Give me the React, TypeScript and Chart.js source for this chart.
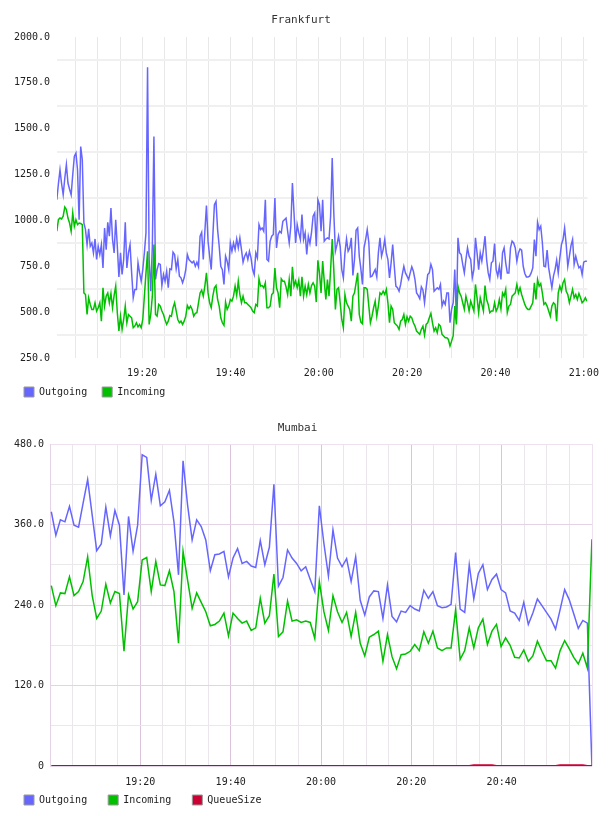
import React, { useEffect, useRef } from 'react';
import { Chart, registerables } from 'chart.js';

Chart.register(...registerables);

const FONT = "'DejaVu Sans Mono', 'Liberation Mono', monospace";
Chart.defaults.font.family = FONT;

// ---------- Frankfurt (time in minutes after 19:00) ----------
const FRA_TITLE = 'Frankfurt';
const FRA_TIME_START = 0.68;
const FRA_TIME_END = 120.69;
const FRA_X_RANGE = [0.72, 120.8];
const FRA_Y_RANGE = [250, 2000];
const FRA_Y_STEP = 125;
const FRA_OUTGOING = [
  1113, 1200, 1276, 1200, 1140, 1230, 1304, 1204, 1170, 1140,
  1250, 1349, 1367, 1276, 1004, 1403, 1331, 986, 950, 868,
  954, 859, 877, 823, 899, 787, 859, 814, 868, 741,
  959, 841, 990, 914, 1068, 896, 823, 1004, 859, 692,
  823, 705, 787, 990, 741, 823, 868, 714, 578, 624,
  624, 769, 714, 669, 732, 823, 932, 1835, 787, 614,
  859, 1458, 678, 732, 765, 760, 645, 705, 669, 723,
  633, 736, 732, 827, 814, 736, 787, 696, 687, 660,
  687, 732, 814, 787, 778, 769, 778, 750, 772, 747,
  914, 935, 787, 941, 1081, 887, 805, 732, 914, 1086,
  1104, 950, 859, 750, 732, 651, 805, 778, 732, 877,
  832, 877, 841, 899, 850, 905, 841, 772, 805, 823,
  787, 832, 796, 732, 705, 823, 796, 977, 950, 959,
  941, 1113, 787, 778, 887, 914, 923, 1122, 850, 923,
  941, 932, 995, 1004, 1013, 941, 877, 968, 1204, 1041,
  877, 977, 932, 896, 1032, 896, 932, 814, 914, 874,
  935, 1023, 1041, 859, 1113, 1086, 941, 1113,
  887, 899, 905, 899, 1023, 1340, 1041, 832, 868, 914,
  859, 732, 687, 823, 899, 832, 850, 905, 700, 787,
  946, 959, 805, 736, 651, 850, 896, 950, 881, 692,
  696, 714, 732, 692, 823, 905, 805, 841, 896, 823,
  787, 687, 769, 868, 750, 642, 633, 614, 651, 705,
  750, 714, 696, 678, 714, 747, 723, 678, 605, 591,
  573, 638, 620, 551, 633, 705, 714, 760, 732, 614,
  624, 633, 624, 651, 533, 560, 542, 605, 605, 442,
  515, 551, 732, 460, 905, 823, 814, 760, 714, 787,
  850, 805, 787, 687, 732, 905, 823, 732, 823, 778,
  841, 914, 787, 714, 678, 769, 778, 874, 732, 696,
  750, 678, 823, 850, 769, 714, 714, 850, 887, 877,
  850, 778, 823, 845, 838, 750, 711, 692, 692, 696,
  714, 741, 896, 805, 990, 950, 968, 881, 750, 747,
  838, 741, 687, 633, 696, 732, 783, 714, 796, 868,
  896, 959, 868, 750, 805, 863, 896, 760, 805, 769,
  741, 750, 705, 772, 778, 778,
];
const FRA_INCOMING = [
  941, 1004, 1013, 1008, 1023, 1073, 1059, 1013, 986, 941,
  1041, 968, 1004, 977, 986, 983, 977, 605, 596, 487,
  578, 542, 515, 515, 551, 506, 524, 551, 451, 633,
  533, 587, 605, 551, 602, 524, 591, 642, 497, 397,
  478, 406, 460, 533, 442, 487, 478, 469, 415, 424,
  442, 420, 433, 415, 460, 587, 714, 832, 433, 487,
  587, 868, 487, 478, 542, 533, 506, 487, 457, 433,
  451, 482, 478, 524, 551, 506, 460, 442, 451, 433,
  451, 478, 536, 518, 533, 515, 478, 493, 497, 551,
  605, 620, 587, 642, 714, 605, 551, 524, 587, 633,
  645, 569, 533, 469, 442, 428, 555, 515, 533, 569,
  560, 587, 642, 591, 669, 596, 551, 587, 551, 551,
  542, 533, 524, 506, 497, 542, 533, 682, 642, 645,
  633, 660, 524, 524, 533, 596, 605, 741, 633, 605,
  524, 682, 669, 669, 638, 596, 678, 587, 747, 642,
  669, 633, 673, 587, 692, 587, 642, 596, 651, 605,
  645, 660, 642, 555, 783, 714, 605, 778,
  669, 569, 678, 587, 732, 899, 732, 515, 624, 633,
  551, 460, 415, 596, 551, 533, 515, 451, 587, 605,
  660, 714, 487, 446, 437, 633, 633, 624, 533, 442,
  478, 524, 560, 478, 533, 605, 596, 614, 596, 624,
  551, 442, 533, 515, 442, 433, 424, 406, 451, 460,
  487, 433, 475, 451, 478, 469, 442, 424, 397, 388,
  379, 406, 424, 375, 433, 442, 469, 493, 442, 397,
  415, 388, 433, 424, 379, 370, 360, 360, 351, 315,
  342, 370, 533, 433, 642, 605, 587, 551, 515, 587,
  551, 506, 560, 533, 506, 651, 578, 497, 578, 542,
  506, 645, 569, 542, 497, 506, 506, 551, 506, 524,
  569, 518, 605, 587, 624, 497, 533, 542, 587, 596,
  605, 651, 605, 633, 596, 569, 542, 524, 515, 515,
  533, 551, 660, 569, 678, 642, 656, 605, 542, 551,
  533, 506, 478, 533, 551, 542, 451, 605, 642, 614,
  660, 678, 614, 596, 551, 587, 624, 578, 596, 569,
  602, 578, 551, 560, 578, 560,
];

// ---------- Mumbai (one sample per minute) ----------
const MUM_TITLE = 'Mumbai';
const MUM_TIME_START = 0.29;
const MUM_TIME_END = 119.98;
const MUM_X_RANGE = [0, 120];
const MUM_Y_RANGE = [0, 480];
const MUM_Y_STEP = 60;
const MUM_OUTGOING = [
  379, 344, 367, 364, 387, 359, 356, 392, 427, 374,
  321, 331, 386, 343, 381, 359, 255, 372, 320, 359,
  464, 460, 396, 435, 388, 394, 411, 364, 285, 455,
  389, 337, 367, 357, 337, 291, 315, 316, 320, 282,
  310, 324, 302, 305, 298, 296, 336, 300, 326, 420,
  268, 281, 322, 310, 302, 291, 297, 278, 260, 388,
  332, 283, 352, 310, 297, 309, 275, 312, 247, 225,
  252, 261, 260, 220, 270, 223, 215, 231, 229, 239,
  234, 231, 262, 250, 260, 239, 236, 237, 241, 318,
  234, 229, 300, 249, 287, 300, 263, 278, 286, 263,
  258, 231, 228, 217, 244, 211, 228, 249, 239, 229,
  219, 204, 233, 263, 248, 227, 205, 217, 213, 0,
];
const MUM_INCOMING = [
  269, 239, 258, 257, 282, 254, 260, 275, 312, 254,
  220, 231, 271, 243, 260, 257, 171, 255, 234, 245,
  307, 311, 260, 305, 270, 269, 291, 260, 183, 320,
  277, 235, 258, 244, 230, 209, 211, 216, 228, 194,
  228, 220, 213, 216, 202, 206, 250, 213, 224, 286,
  193, 200, 246, 216, 218, 214, 216, 214, 190, 275,
  230, 202, 254, 230, 214, 229, 193, 229, 183, 164,
  192, 196, 201, 156, 196, 163, 145, 166, 167, 171,
  181, 172, 200, 183, 201, 176, 172, 176, 176, 233,
  159, 172, 206, 176, 206, 219, 181, 201, 211, 178,
  191, 180, 162, 161, 173, 156, 164, 186, 171, 157,
  157, 146, 172, 187, 175, 162, 152, 168, 146, 338,
];
const MUM_QUEUE = [
  0, 0, 0, 0, 0, 0, 0, 0, 0, 0,
  0, 0, 0, 0, 0, 0, 0, 0, 0, 0,
  0, 0, 0, 0, 0, 0, 0, 0, 0, 0,
  0, 0, 0, 0, 0, 0, 0, 0, 0, 0,
  0, 0, 0, 0, 0, 0, 0, 0, 0, 0,
  0, 0, 0, 0, 0, 0, 0, 0, 0, 0,
  0, 0, 0, 0, 0, 0, 0, 0, 0, 0,
  0, 0, 0, 0, 0, 0, 0, 0, 0, 0,
  0, 0, 0, 0, 0, 0, 0, 0, 0, 0,
  0, 0, 0, 1, 1, 1, 1, 1, 0, 0,
  0, 0, 0, 0, 0, 0, 0, 0, 0, 0,
  0, 0, 1, 1, 1, 1, 1, 1, 0, 0,
];

const SERIES_NAMES = ['Outgoing', 'Incoming', 'QueueSize'];
const SERIES_COLORS = ['#6666ff', '#00c000', '#cc0033'];

const X_GRID_MINUTES = 5;
const X_LABEL_MINUTES = 20;

function toPoints(values: number[], t0: number, t1: number) {
  const step = (t1 - t0) / (values.length - 1);
  return values.map((v, i) => ({ x: t0 + i * step, y: v }));
}

function fmtTime(m: number) {
  const total = Math.round(m);
  const h = 19 + Math.floor(total / 60);
  const mm = total % 60;
  return `${h}:${mm < 10 ? '0' + mm : mm}`;
}

function fmtValue(v: number) {
  return v === 0 ? '0' : v.toFixed(1);
}

function range(a: number, b: number, s: number) {
  const out: number[] = [];
  for (let v = a; v <= b + 1e-9; v += s) out.push(v);
  return out;
}

function legendLabels(chart: any) {
  return chart.data.datasets.map((ds: any, i: number) => ({
    text: ds.label,
    fillStyle: ds.borderColor,
    strokeStyle: '#999999',
    lineWidth: 1,
    hidden: false,
    datasetIndex: i,
    fontColor: '#222222',
  }));
}

// moves the legend vertically after layout (keeps the horizontal item spacing)
const legendShift = {
  id: 'legendShift',
  afterLayout(chart: any, _args: any, opts: any) {
    const lg = chart.legend;
    if (lg && opts && opts.dy) {
      lg.top += opts.dy;
      lg.bottom += opts.dy;
    }
  },
};

function makeConfig(p: any) {
  const tickFont = { family: FONT, size: 10 };
  return {
    type: 'line',
    plugins: [legendShift],
    data: {
      datasets: p.series.map((s: any, i: number) => ({
        label: SERIES_NAMES[i],
        data: toPoints(s, p.t0, p.t1),
        borderColor: SERIES_COLORS[i],
        backgroundColor: SERIES_COLORS[i],
        borderWidth: i === 2 ? 2 : 1.5,
        pointRadius: 0,
        tension: 0,
        fill: false,
        order: p.series.length - i,
      })),
    },
    options: {
      responsive: false,
      animation: false,
      events: [],
      layout: { padding: { left: p.padLeft, right: p.padRight, top: 0, bottom: 0 } },
      plugins: {
        legendShift: { dy: p.legendDy },
        title: {
          display: true,
          text: p.title,
          color: '#333333',
          font: { family: FONT, size: 11, weight: 'normal' },
          padding: { top: p.titleTop, bottom: p.titleBottom },
        },
        legend: {
          position: 'bottom',
          align: 'start',
          labels: {
            boxWidth: 10,
            boxHeight: 10,
            padding: p.legendPad,
            color: '#222222',
            font: { family: FONT, size: 10 },
            generateLabels: legendLabels,
          },
        },
        tooltip: { enabled: false },
      },
      scales: {
        x: {
          type: 'linear',
          min: p.xRange[0],
          max: p.xRange[1],
          afterBuildTicks: (scale: any) => {
            scale.ticks = p.xTicks.map((v: number) => ({ value: v }));
          },
          afterFit: (scale: any) => {
            scale.height = 22;
          },
          grid: {
            drawTicks: false,
            color: p.xGridColor,
            lineWidth: 1,
          },
          border: { display: false },
          ticks: {
            autoSkip: false,
            maxRotation: 0,
            padding: p.xTickPad,
            color: '#222222',
            font: tickFont,
            callback: (v: number) => p.xLabel(v),
          },
        },
        y: {
          type: 'linear',
          min: p.yRange[0],
          max: p.yRange[1],
          afterBuildTicks: (scale: any) => {
            scale.ticks = range(p.yRange[0], p.yRange[1], p.yStep).map((v) => ({ value: v }));
          },
          afterFit: (scale: any) => {
            scale.width = p.yAxisWidth;
          },
          grid: {
            drawTicks: false,
            color: p.yGridColor,
            lineWidth: p.yGridWidth,
          },
          border: p.yBorder,
          ticks: {
            autoSkip: false,
            padding: p.yTickPad,
            color: '#222222',
            font: tickFont,
            callback: (v: number, i: number) => (i % 2 === 0 ? fmtValue(v) : ''),
          },
        },
      },
    },
  };
}

const fraConfig = makeConfig({
  title: FRA_TITLE,
  series: [FRA_OUTGOING, FRA_INCOMING],
  t0: FRA_TIME_START,
  t1: FRA_TIME_END,
  xRange: FRA_X_RANGE,
  yRange: FRA_Y_RANGE,
  yStep: FRA_Y_STEP,
  xTicks: range(X_GRID_MINUTES, 120, X_GRID_MINUTES),
  xLabel: (v: number) => (v % X_LABEL_MINUTES === 0 ? fmtTime(v) : ''),
  xGridColor: '#e8e8e8',
  yGridColor: (ctx: any) => (ctx.index % 2 === 1 ? '#f0f0f0' : 'rgba(0,0,0,0)'),
  yGridWidth: 2,
  yBorder: { display: false },
  padLeft: 9,
  padRight: 15,
  titleTop: 13.7,
  titleBottom: 10.1,
  legendPad: 15,
  legendDy: -8,
  xTickPad: 9,
  yAxisWidth: 48,
  yTickPad: 7,
});

const mumConfig = makeConfig({
  title: MUM_TITLE,
  series: [MUM_OUTGOING, MUM_INCOMING, MUM_QUEUE],
  t0: MUM_TIME_START,
  t1: MUM_TIME_END,
  xRange: MUM_X_RANGE,
  yRange: MUM_Y_RANGE,
  yStep: MUM_Y_STEP,
  xTicks: range(X_GRID_MINUTES, 120, X_GRID_MINUTES),
  xLabel: (v: number) => (v % X_LABEL_MINUTES === 0 && v < 120 ? fmtTime(v) : ''),
  xGridColor: (ctx: any) => {
    const v = ctx.tick ? ctx.tick.value : 0;
    if (v >= 120) return '#efe0ef';
    return v % X_LABEL_MINUTES === 0 ? '#dcc4dc' : '#ebe6eb';
  },
  yGridColor: (ctx: any) => {
    const v = ctx.tick ? ctx.tick.value : 0;
    if (v >= 480) return '#efe0ef';
    return v % 120 === 0 ? '#e6d2e6' : '#ebe8eb';
  },
  yGridWidth: 1,
  yBorder: { display: true, color: '#e6d2e6', width: 1 },
  padLeft: 3,
  padRight: 16,
  titleTop: 21.9,
  titleBottom: 8.9,
  legendPad: 21,
  legendDy: -14,
  xTickPad: 10,
  yAxisWidth: 47,
  yTickPad: 6,
});

function ChartCanvas({ config, top, height }: { config: any; top: number; height: number }) {
  const ref = useRef<HTMLCanvasElement | null>(null);
  useEffect(() => {
    if (!ref.current) return;
    const chart = new Chart(ref.current, config);
    return () => chart.destroy();
  }, [config]);
  return (
    <canvas
      ref={ref}
      width={608}
      height={height}
      style={{ position: 'absolute', left: 0, top, width: 608, height, display: 'block' }}
    />
  );
}

export default function App() {
  return (
    <div style={{ position: 'absolute', left: 0, top: 0, width: 608, height: 816, background: '#ffffff', overflow: 'hidden' }}>
      <ChartCanvas config={fraConfig} top={0} height={415} />
      <ChartCanvas config={mumConfig} top={400} height={429} />
    </div>
  );
}
